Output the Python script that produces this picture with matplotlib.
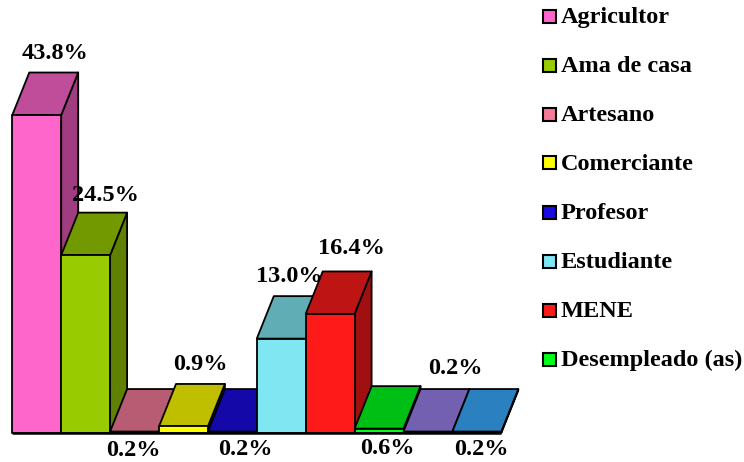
import matplotlib
matplotlib.use('Agg')
import matplotlib.pyplot as plt
from matplotlib.patches import Polygon, Rectangle

plt.rcParams['font.family'] = ['Liberation Serif', 'DejaVu Serif']

# Datos
categorias = ['Agricultor', 'Ama de casa', 'Artesano', 'Comerciante', 'Profesor',
              'Estudiante', 'MENE', 'Desempleado (as)']
valores = [43.8, 24.5, 0.2, 0.9, 0.2, 13.0, 16.4, 0.6, 0.2, 0.2]

# Colores de cada barra: frente, tapa y lateral
frente = ['#FF66CC', '#99CC00', '#F57A99', '#FFFF00', '#1A0AE0',
          '#80E6F2', '#FF1A1A', '#00FF1A', '#9980EB', '#39AAFF']
tapa = ['#BF4D99', '#739900', '#B85C73', '#BFBF00', '#1408A8',
        '#60ADB6', '#BF1414', '#00BF14', '#7360B0', '#2B80BF']
lateral = ['#A03D80', '#608000', '#994D60', '#808000', '#100688',
           '#4D8A92', '#A01010', '#008010', '#604D93', '#236A9F']

# Desplazamiento de cada etiqueta respecto al centro de la barra (pixeles)
offset_etiquetas = [(18, 62), (20, 60), (-1, -19), (17, 62), (13, -18),
                    (8, 62), (21, 65), (8, -20), (27, 63), (5, -18)]

W, H = 744, 462
ancho_px = 48.9
px_por_unidad = 7.26
base_px = 433
prof_x = 17 / ancho_px
prof_y = 42.5 / px_por_unidad

fig = plt.figure(figsize=(W / 100, H / 100), dpi=100)
ymax = 50
ax = fig.add_axes([12.3 / W, (H - base_px) / H, ancho_px * len(valores) / W,
                   ymax * px_por_unidad / H])
ax.set_xlim(0, len(valores))
ax.set_ylim(0, ymax)
ax.axis('off')

estilo = dict(edgecolor='black', linewidth=1.3, joinstyle='round', clip_on=False)

# Barras en perspectiva, de izquierda a derecha
for i, v in enumerate(valores):
    ax.add_patch(Polygon([(i + 1, 0), (i + 1 + prof_x, prof_y), (i + 1 + prof_x, v + prof_y), (i + 1, v)],
                         facecolor=lateral[i], **estilo))
    ax.add_patch(Polygon([(i, v), (i + prof_x, v + prof_y), (i + 1 + prof_x, v + prof_y), (i + 1, v)],
                         facecolor=tapa[i], **estilo))
    ax.add_patch(Rectangle((i, 0), 1, v, facecolor=frente[i], **estilo))

# Linea de base
ax.plot([0, len(valores)], [0, 0], color='black', linewidth=1.8, clip_on=False, solid_capstyle='butt')

# Etiquetas de porcentaje
for i, v in enumerate(valores):
    ax.annotate(f'{v:.1f}%', xy=(i + 0.5, v), xytext=offset_etiquetas[i],
                textcoords='offset pixels', ha='center', va='center',
                fontsize=17.5, fontweight='bold', color='black', annotation_clip=False)

# Leyenda manual
for i, nombre in enumerate(categorias):
    yc = 16 + 49 * i
    fig.add_artist(Rectangle((542.5 / W, 1 - (yc + 6.5) / H), 13 / W, 13 / H,
                             transform=fig.transFigure, facecolor=frente[i],
                             edgecolor='black', linewidth=1.5))
    fig.text(561 / W, 1 - (yc + 1.5) / H, nombre, ha='left', va='center',
             fontsize=17.5, fontweight='bold', color='black')

fig.savefig('out.png', dpi=100)
